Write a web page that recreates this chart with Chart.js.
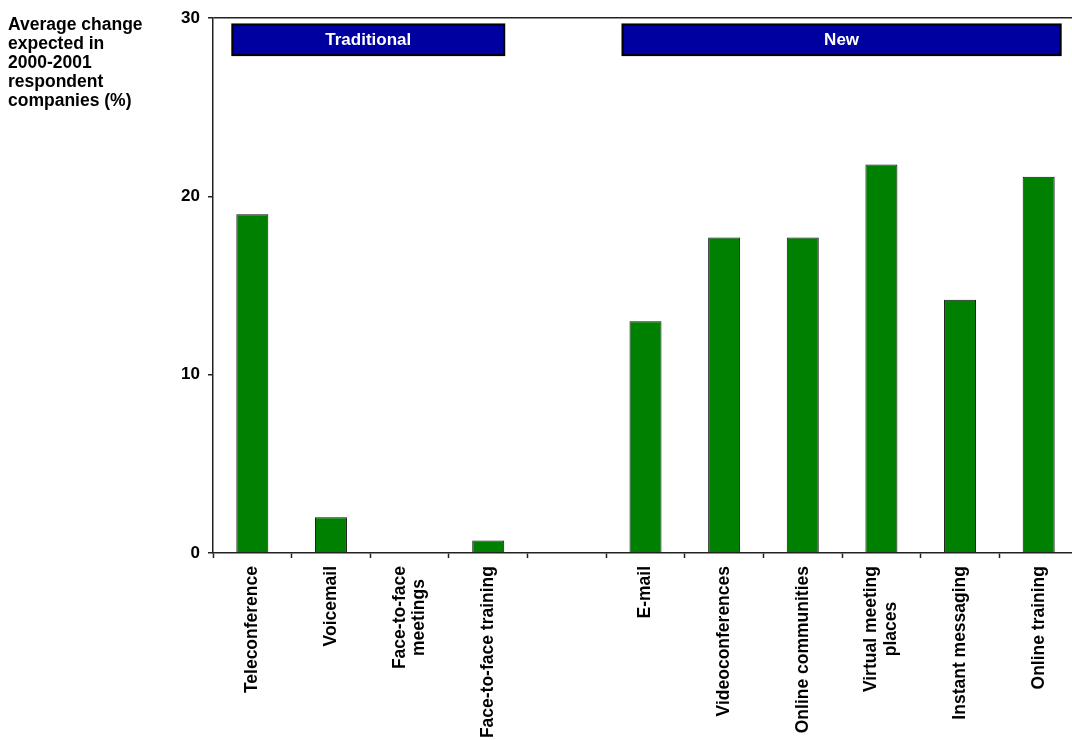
<!DOCTYPE html>
<html>
<head>
<meta charset="utf-8">
<title>Average change expected in 2000-2001</title>
<style>
  html, body { margin: 0; padding: 0; background: #fff; overflow: hidden; width: 1072px; height: 740px; }
  canvas { display: block; }
</style>
<script src="https://cdn.jsdelivr.net/npm/chart.js@4.4.1/dist/chart.umd.min.js"></script>
</head>
<body>
<canvas id="chart" width="1080" height="740"></canvas>
<script>
// Communication channels (the blank slot separates the two groups)
const categories = [
  'Teleconference',
  'Voicemail',
  ['Face-to-face', 'meetings'],
  'Face-to-face training',
  '',
  'E-mail',
  'Videoconferences',
  'Online communities',
  ['Virtual meeting', 'places'],
  'Instant messaging',
  'Online training'
];

// Average change expected, %
const changePct = [19.0, 2.0, 0, 0.7, null, 13.0, 17.7, 17.7, 21.8, 14.2, 21.1];

// Value axis ticks
const yTicks = [0, 10, 20, 30];

// Group banners: label, first and last category index covered
const groupLabels = ['Traditional', 'New'];
const groupFirst = [0, 5];
const groupLast = [3, 10];

// Value axis title, one entry per line
const axisTitleLines = ['Average change', 'expected in', '2000-2001', 'respondent', 'companies (%)'];

const FONT = '"Liberation Sans", Arial, Helvetica, sans-serif';
const AXIS_COLOR = '#222';

// Banners above the bars for each category group
const groupBanners = {
  id: 'groupBanners',
  afterDraw(chart) {
    const { ctx, scales: { x, y } } = chart;
    const pads = [[20, 16], [23, 22]];
    ctx.save();
    groupLabels.forEach((label, i) => {
      const left = x.getPixelForValue(groupFirst[i]) - pads[i][0];
      const right = x.getPixelForValue(groupLast[i]) + pads[i][1];
      const top = y.getPixelForValue(29.65);
      const bottom = y.getPixelForValue(27.93);
      ctx.fillStyle = '#0000A0';
      ctx.fillRect(left, top, right - left, bottom - top);
      ctx.lineWidth = 2;
      ctx.strokeStyle = '#000';
      ctx.strokeRect(left, top, right - left, bottom - top);
      ctx.fillStyle = '#fff';
      ctx.font = 'bold 17px ' + FONT;
      ctx.textAlign = 'center';
      ctx.textBaseline = 'middle';
      ctx.fillText(label, (left + right) / 2, (top + bottom) / 2 + 1);
    });
    ctx.restore();
  }
};

// Vertical category labels, multi-line ones centred within their block
const categoryLabels = {
  id: 'categoryLabels',
  afterDraw(chart) {
    const { ctx, scales: { x } } = chart;
    const top = x.top + 13;
    const lh = 19.5;
    ctx.save();
    ctx.font = 'bold 17.5px ' + FONT;
    ctx.fillStyle = '#000';
    ctx.textAlign = 'right';
    ctx.textBaseline = 'middle';
    categories.forEach((cat, i) => {
      const lines = Array.isArray(cat) ? cat : [cat];
      if (!lines[0]) return;
      const widths = lines.map(l => ctx.measureText(l).width);
      const maxW = Math.max(...widths);
      const cx = x.getPixelForValue(i);
      ctx.save();
      ctx.translate(cx, top);
      ctx.rotate(-Math.PI / 2);
      lines.forEach((line, k) => {
        const dy = (k - (lines.length - 1) / 2) * lh;
        ctx.fillText(line, -(maxW - widths[k]) / 2, dy);
      });
      ctx.restore();
    });
    ctx.restore();
  }
};

// Horizontal value-axis title in the top-left corner
const axisTitle = {
  id: 'axisTitle',
  afterDraw(chart) {
    const { ctx } = chart;
    ctx.save();
    ctx.font = 'bold 17.5px ' + FONT;
    ctx.fillStyle = '#000';
    ctx.textAlign = 'left';
    ctx.textBaseline = 'middle';
    axisTitleLines.forEach((line, k) => {
      ctx.fillText(line, 8, 25.5 + k * 18.9);
    });
    ctx.restore();
  }
};

new Chart(document.getElementById('chart'), {
  type: 'bar',
  data: {
    labels: categories,
    datasets: [{
      data: changePct,
      backgroundColor: '#008000',
      borderColor: '#111',
      borderWidth: 1,
      barPercentage: 0.407,
      categoryPercentage: 1
    }]
  },
  options: {
    responsive: false,
    animation: false,
    devicePixelRatio: 1,
    layout: { padding: { top: 16, right: 2, left: 0, bottom: 0 } },
    plugins: {
      legend: { display: false },
      tooltip: { enabled: false },
      title: { display: false }
    },
    scales: {
      x: {
        offset: true,
        grid: {
          offset: true,
          drawOnChartArea: false,
          drawTicks: true,
          tickLength: 5,
          tickColor: AXIS_COLOR,
          tickWidth: 1.5
        },
        border: { display: true, color: AXIS_COLOR, width: 1.5 },
        ticks: { display: false },
        afterFit(scale) { scale.height = 187; }
      },
      y: {
        min: 0,
        max: 30,
        afterBuildTicks(scale) { scale.ticks = yTicks.map(v => ({ value: v })); },
        grid: {
          color: ctx => (ctx.tick && ctx.tick.value === 30 ? AXIS_COLOR : 'rgba(0,0,0,0)'),
          lineWidth: 1.5,
          tickColor: AXIS_COLOR,
          tickLength: 5,
          tickWidth: 1.5
        },
        border: { display: true, color: AXIS_COLOR, width: 1.5 },
        ticks: {
          color: '#000',
          padding: 8,
          font: { family: FONT, size: 17, weight: 'bold' }
        },
        afterFit(scale) { scale.width = 213; }
      }
    }
  },
  plugins: [groupBanners, categoryLabels, axisTitle]
});
</script>
</body>
</html>
